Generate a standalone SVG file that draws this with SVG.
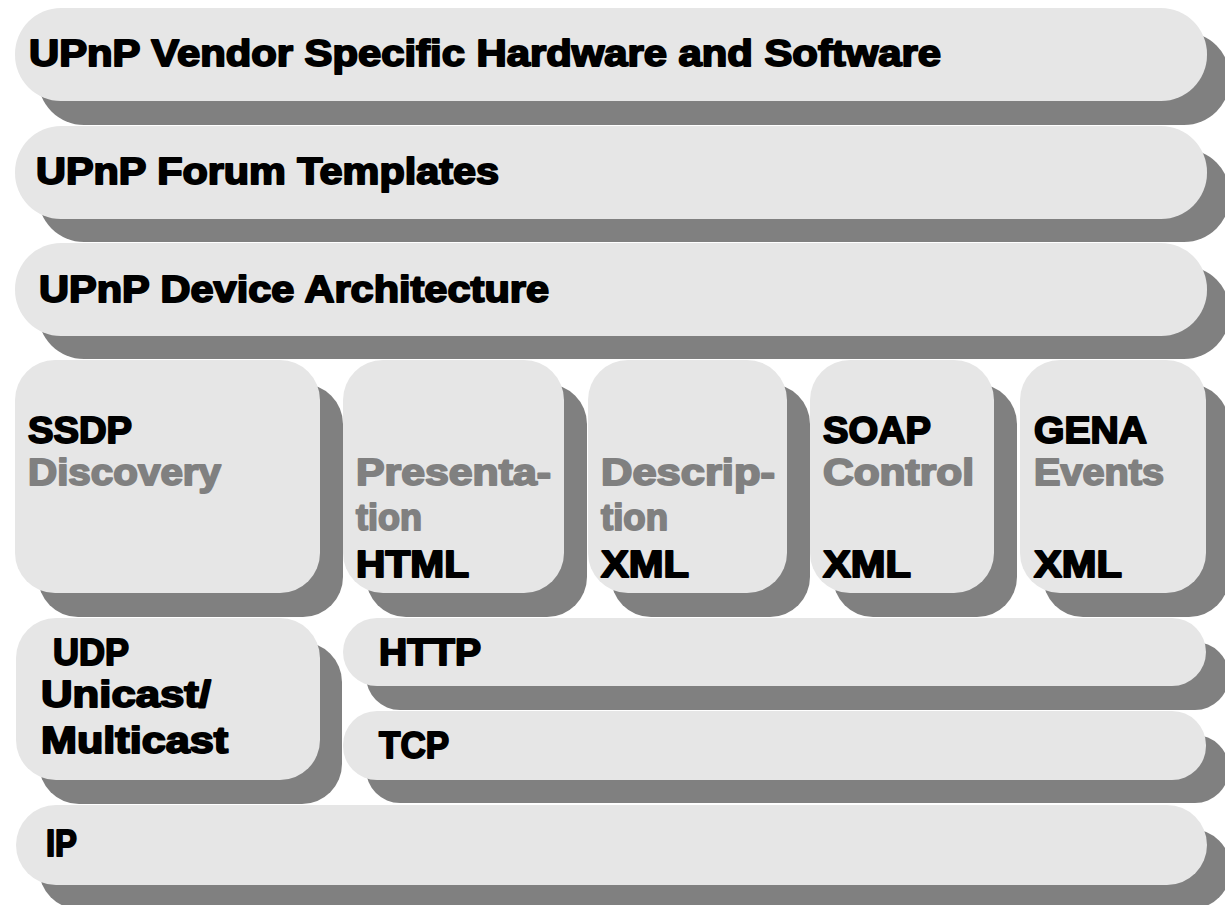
<svg xmlns="http://www.w3.org/2000/svg" width="1225" height="905" viewBox="0 0 1225 905">
<style>
.sh{fill:#808080}
.bx{fill:#e6e6e6}
text{font-family:"Liberation Sans",Arial,sans-serif;font-weight:bold;font-size:37px;fill:#000;stroke:#000;stroke-width:1.9;stroke-linejoin:round}
text.g{fill:#808080;stroke:#808080}
</style>
<rect width="1225" height="905" fill="#fff"/>
<g id="vendor">
<rect class="sh" x="38" y="32" width="1192" height="93" rx="46"/>
<rect class="bx" x="15" y="8" width="1192" height="93" rx="46"/>
<text x="29" y="66" textLength="912" lengthAdjust="spacingAndGlyphs">UPnP Vendor Specific Hardware and Software</text>
</g>
<g id="forum">
<rect class="sh" x="38" y="149" width="1192" height="93" rx="46"/>
<rect class="bx" x="15" y="126" width="1192" height="93" rx="46"/>
<text x="36" y="184" textLength="463" lengthAdjust="spacingAndGlyphs">UPnP Forum Templates</text>
</g>
<g id="device">
<rect class="sh" x="38" y="266" width="1192" height="93" rx="46"/>
<rect class="bx" x="15" y="243" width="1192" height="93" rx="46"/>
<text x="39" y="302" textLength="510" lengthAdjust="spacingAndGlyphs">UPnP Device Architecture</text>
</g>
<g id="ssdp">
<rect class="sh" x="38" y="384" width="305" height="233" rx="40"/>
<rect class="bx" x="15" y="360" width="305" height="233" rx="40"/>
<text x="28" y="443" textLength="104" lengthAdjust="spacingAndGlyphs">SSDP</text>
<text class="g" x="28" y="485" textLength="193" lengthAdjust="spacingAndGlyphs">Discovery</text>
</g>
<g id="presentation">
<rect class="sh" x="366" y="384" width="221" height="233" rx="40"/>
<rect class="bx" x="343" y="360" width="221" height="233" rx="40"/>
<text class="g" x="356" y="485" textLength="195" lengthAdjust="spacingAndGlyphs">Presenta-</text>
<text class="g" x="356" y="530" textLength="66" lengthAdjust="spacingAndGlyphs">tion</text>
<text x="356" y="577" textLength="113" lengthAdjust="spacingAndGlyphs">HTML</text>
</g>
<g id="description">
<rect class="sh" x="611" y="384" width="199" height="233" rx="40"/>
<rect class="bx" x="588" y="360" width="199" height="233" rx="40"/>
<text class="g" x="601" y="485" textLength="174" lengthAdjust="spacingAndGlyphs">Descrip-</text>
<text class="g" x="601" y="530" textLength="67" lengthAdjust="spacingAndGlyphs">tion</text>
<text x="601" y="577" textLength="88" lengthAdjust="spacingAndGlyphs">XML</text>
</g>
<g id="soap">
<rect class="sh" x="833" y="384" width="184" height="233" rx="40"/>
<rect class="bx" x="810" y="360" width="184" height="233" rx="40"/>
<text x="823" y="443" textLength="108" lengthAdjust="spacingAndGlyphs">SOAP</text>
<text class="g" x="823" y="485" textLength="151" lengthAdjust="spacingAndGlyphs">Control</text>
<text x="823" y="577" textLength="88" lengthAdjust="spacingAndGlyphs">XML</text>
</g>
<g id="gena">
<rect class="sh" x="1043" y="384" width="186" height="233" rx="40"/>
<rect class="bx" x="1020" y="360" width="186" height="233" rx="40"/>
<text x="1034" y="443" textLength="113" lengthAdjust="spacingAndGlyphs">GENA</text>
<text class="g" x="1034" y="485" textLength="130" lengthAdjust="spacingAndGlyphs">Events</text>
<text x="1034" y="577" textLength="88" lengthAdjust="spacingAndGlyphs">XML</text>
</g>
<g id="udp">
<rect class="sh" x="39" y="642" width="303" height="162" rx="40"/>
<rect class="bx" x="16" y="618" width="304" height="162" rx="40"/>
<text x="53" y="665" textLength="76" lengthAdjust="spacingAndGlyphs">UDP</text>
<text x="41" y="707" textLength="170" lengthAdjust="spacingAndGlyphs">Unicast/</text>
<text x="41" y="753" textLength="187" lengthAdjust="spacingAndGlyphs">Multicast</text>
</g>
<g id="http">
<rect class="sh" x="366" y="642" width="863" height="68" rx="34"/>
<rect class="bx" x="343" y="618" width="863" height="68" rx="34"/>
<text x="379" y="665" textLength="102" lengthAdjust="spacingAndGlyphs">HTTP</text>
</g>
<g id="tcp">
<rect class="sh" x="366" y="735" width="863" height="68" rx="34"/>
<rect class="bx" x="343" y="711" width="863" height="69" rx="34"/>
<text x="379" y="758" textLength="70" lengthAdjust="spacingAndGlyphs">TCP</text>
</g>
<g id="ip">
<rect class="sh" x="39" y="829" width="1192" height="80" rx="40"/>
<rect class="bx" x="16" y="805" width="1191" height="80" rx="40"/>
<text x="46" y="856" textLength="31" lengthAdjust="spacingAndGlyphs">IP</text>
</g>
<g id="connectors"/>
</svg>
